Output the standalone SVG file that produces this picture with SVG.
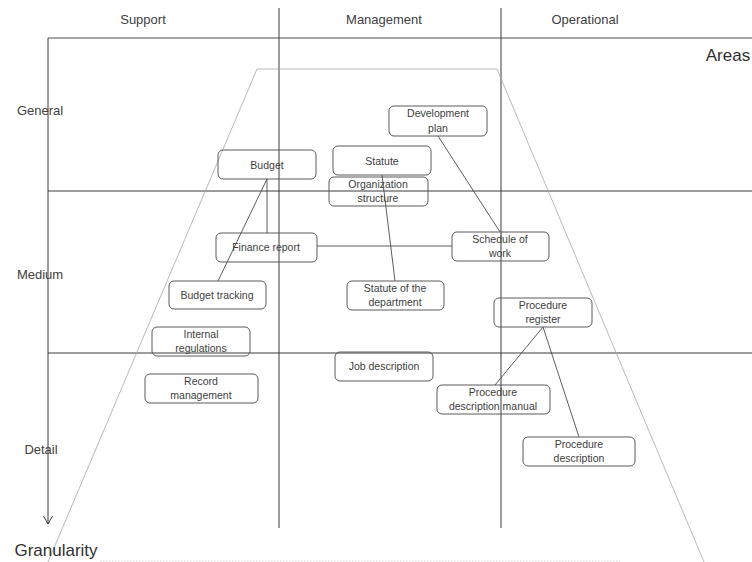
<svg xmlns="http://www.w3.org/2000/svg" width="752" height="562" viewBox="0 0 752 562">
<style>
.bg{fill:#ffffff}
.grid{stroke:#3a3a3a;stroke-width:1;fill:none}
.top{stroke:#8a8a8a;stroke-width:1.4;fill:none}
.trap{stroke:#a8a8a8;stroke-width:0.8;fill:none}
.box{fill:none;stroke:#5a5a5a;stroke-width:1}
.conn{stroke:#4a4a4a;stroke-width:0.9;fill:none}
.t{font-family:"Liberation Sans",Arial,sans-serif;fill:#404040;text-anchor:middle}
.n{font-size:10.5px}
.h{font-size:13px}
.big{font-size:17px;fill:#303030}
</style>
<defs>
<marker id="open" markerWidth="12" markerHeight="12" refX="10" refY="6" orient="auto" markerUnits="userSpaceOnUse">
<path d="M2,1.5 L10,6 L2,10.5" fill="none" stroke="#3a3a3a" stroke-width="1"/>
</marker>
</defs>
<rect class="bg" x="0" y="0" width="752" height="562"/>
<g id="frame">
<line class="top" x1="48" y1="38" x2="752" y2="38"/>
<line class="grid" x1="279" y1="8" x2="279" y2="528"/>
<line class="grid" x1="501" y1="8" x2="501" y2="528"/>
<line class="grid" x1="48" y1="191" x2="752" y2="191"/>
<line class="grid" x1="48" y1="353" x2="752" y2="353"/>
<line class="grid" x1="48" y1="38" x2="48" y2="524" marker-end="url(#open)"/>
<polyline class="trap" points="48,562 257,69 497,69 704,562"/>
<line class="trap" x1="100" y1="561" x2="620" y2="561" stroke-dasharray="1.5,1.5" opacity="0.6"/>
</g>
<g id="labels">
<text class="t h" x="143" y="24">Support</text>
<text class="t h" x="384" y="24">Management</text>
<text class="t h" x="585" y="24">Operational</text>
<text class="t big" x="728" y="61">Areas</text>
<text class="t h" x="40" y="115">General</text>
<text class="t h" x="40" y="279">Medium</text>
<text class="t h" x="41" y="454">Detail</text>
<text class="t big" x="56" y="556">Granularity</text>
</g>
<g id="connectors">
<line class="conn" x1="267" y1="179" x2="267" y2="233"/>
<line class="conn" x1="267" y1="179" x2="218" y2="281"/>
<line class="conn" x1="317" y1="246" x2="452" y2="246"/>
<line class="conn" x1="382" y1="175" x2="395" y2="281"/>
<line class="conn" x1="438" y1="136" x2="500" y2="232"/>
<line class="conn" x1="543" y1="327" x2="495" y2="385"/>
<line class="conn" x1="543" y1="327" x2="579" y2="437"/>
</g>
<g id="n-budget"><rect class="box" x="218" y="150" width="98" height="29" rx="5"/><text class="t n" x="267" y="169">Budget</text></g>
<g id="n-statute"><rect class="box" x="333" y="146" width="98" height="29" rx="5"/><text class="t n" x="382" y="165">Statute</text></g>
<g id="n-org"><rect class="box" x="329" y="177" width="99" height="29" rx="5"/><text class="t n" x="378" y="188">Organization</text><text class="t n" x="378" y="202">structure</text></g>
<g id="n-devplan"><rect class="box" x="389" y="106" width="98" height="30" rx="5"/><text class="t n" x="438" y="117">Development</text><text class="t n" x="438" y="132">plan</text></g>
<g id="n-finance"><rect class="box" x="216" y="233" width="101" height="29" rx="5"/><text class="t n" x="266" y="251">Finance report</text></g>
<g id="n-schedule"><rect class="box" x="452" y="232" width="97" height="29" rx="5"/><text class="t n" x="500" y="243">Schedule of</text><text class="t n" x="500" y="257">work</text></g>
<g id="n-budgettracking"><rect class="box" x="169" y="281" width="97" height="28" rx="5"/><text class="t n" x="217" y="299">Budget tracking</text></g>
<g id="n-statutedept"><rect class="box" x="347" y="281" width="97" height="29" rx="5"/><text class="t n" x="395" y="292">Statute of the</text><text class="t n" x="395" y="306">department</text></g>
<g id="n-internal"><rect class="box" x="152" y="327" width="98" height="29" rx="5"/><text class="t n" x="201" y="338">Internal</text><text class="t n" x="201" y="352">regulations</text></g>
<g id="n-procreg"><rect class="box" x="494" y="298" width="98" height="29" rx="5"/><text class="t n" x="543" y="309">Procedure</text><text class="t n" x="543" y="323">register</text></g>
<g id="n-job"><rect class="box" x="335" y="352" width="98" height="29" rx="5"/><text class="t n" x="384" y="370">Job description</text></g>
<g id="n-record"><rect class="box" x="145" y="374" width="113" height="29" rx="5"/><text class="t n" x="201" y="385">Record</text><text class="t n" x="201" y="399">management</text></g>
<g id="n-procmanual"><rect class="box" x="437" y="385" width="113" height="29" rx="5"/><text class="t n" x="493" y="396">Procedure</text><text class="t n" x="493" y="410">description manual</text></g>
<g id="n-procdesc"><rect class="box" x="523" y="437" width="112" height="29" rx="5"/><text class="t n" x="579" y="448">Procedure</text><text class="t n" x="579" y="462">description</text></g>
</svg>
